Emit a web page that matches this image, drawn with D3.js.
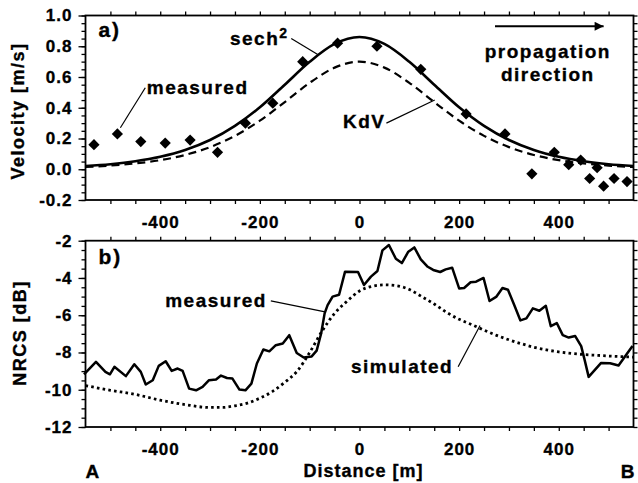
<!DOCTYPE html>
<html>
<head>
<meta charset="utf-8">
<script src="https://cdn.jsdelivr.net/npm/d3@7"></script>
<style>
    body { margin: 0; background: #fff; }
    svg { display: block; font-family: 'Liberation Sans', Arial, Helvetica, sans-serif; font-weight: bold; }
    svg text { stroke: #000; stroke-width: 0.35px; }
</style>
</head>
<body>
<svg id="chart" width="638" height="483"></svg>
<script>
// a) measured velocity (diamonds)
const velDist = [-533, -486, -439, -390, -340, -285, -229, -174, -114, -44, 35, 123, 214, 292, 346, 391, 420, 444, 462, 477, 490, 511, 537];
const velMeasured = [0.16, 0.23, 0.18, 0.17, 0.19, 0.11, 0.30, 0.43, 0.70, 0.82, 0.80, 0.65, 0.36, 0.23, -0.03, 0.11, 0.03, 0.06, -0.06, 0.01, -0.11, -0.06, -0.08];

// a) model curves, read every 50 m
const modelDist = [-550, -500, -450, -400, -350, -300, -250, -200, -150, -100, -50, 0, 50, 100, 150, 200, 250, 300, 350, 400, 450, 500, 550];
const velSech2 = [0.021, 0.033, 0.052, 0.081, 0.125, 0.190, 0.282, 0.403, 0.550, 0.699, 0.815, 0.860, 0.815, 0.699, 0.550, 0.403, 0.282, 0.190, 0.125, 0.081, 0.052, 0.033, 0.021];
const velKdV = [0.015, 0.024, 0.038, 0.059, 0.093, 0.144, 0.217, 0.316, 0.437, 0.562, 0.661, 0.700, 0.661, 0.562, 0.437, 0.316, 0.217, 0.144, 0.093, 0.059, 0.038, 0.024, 0.015];

// b) measured NRCS
const nrcsDist = [-553, -529, -510, -501, -492, -469, -452, -439, -429, -415, -403, -389, -377, -365, -355, -342, -328, -315, -302, -288, -278, -266, -255, -241, -229, -217, -206, -193, -181, -168, -154, -141, -126, -112, -96, -86, -77, -70, -64, -54, -41, -29, -3, 9, 23, 36, 46, 59, 73, 85, 98, 110, 123, 137, 148, 162, 173, 186, 200, 210, 223, 234, 249, 261, 275, 287, 298, 311, 323, 335, 348, 361, 374, 384, 396, 408, 420, 433, 445, 452, 460, 485, 503, 520, 548];
const nrcsMeasured = [-9.17, -8.50, -9.04, -9.17, -8.77, -9.27, -8.63, -9.04, -9.72, -9.49, -8.72, -8.47, -8.99, -8.86, -8.99, -9.94, -10.03, -9.85, -9.49, -9.45, -9.24, -9.37, -9.40, -9.99, -10.03, -9.67, -8.59, -7.84, -7.94, -7.61, -7.52, -7.07, -8.03, -8.27, -8.21, -7.90, -6.98, -5.90, -5.46, -5.00, -4.90, -3.66, -3.68, -4.38, -3.93, -3.63, -2.52, -2.23, -2.97, -3.20, -2.59, -2.36, -3.00, -3.40, -3.57, -3.68, -3.54, -3.45, -4.56, -4.54, -4.23, -4.20, -4.00, -5.24, -5.00, -4.54, -4.63, -5.48, -6.28, -6.17, -5.63, -5.76, -5.49, -6.59, -6.42, -7.07, -7.20, -7.12, -7.66, -8.41, -9.31, -8.56, -8.58, -8.70, -7.65];

// b) simulated NRCS
const simDist = [-550, -500, -450, -400, -350, -300, -275, -250, -225, -200, -175, -150, -125, -100, -75, -50, -25, 0, 25, 50, 75, 100, 125, 150, 175, 200, 225, 250, 275, 300, 325, 350, 375, 400, 425, 450, 475, 500, 525, 550];
const nrcsSimulated = [-9.78, -10.03, -10.25, -10.56, -10.80, -10.95, -10.95, -10.86, -10.72, -10.45, -10.10, -9.60, -9.00, -8.00, -6.85, -5.90, -5.25, -4.70, -4.45, -4.37, -4.42, -4.62, -5.00, -5.40, -5.85, -6.22, -6.50, -6.80, -7.08, -7.32, -7.53, -7.72, -7.86, -7.97, -8.05, -8.11, -8.15, -8.19, -8.22, -8.25];

// tick labels
const distTicks = [-400, -200, 0, 200, 400];
const velTicks = [-0.2, 0.0, 0.2, 0.4, 0.6, 0.8, 1.0];
const nrcsTicks = [-12, -10, -8, -6, -4, -2];

const plotLeft = 85.5, plotRight = 633.5;
const panelA = { top: 15.5, bottom: 200 };
const panelB = { top: 240.7, bottom: 427 };

const svg = d3.select('#chart');

const x = d3.scaleLinear().domain([-550, 550]).range([plotLeft, plotRight]);
const yVel = d3.scaleLinear().domain([-0.2, 1.0]).range([panelA.bottom, panelA.top]);
const yNrcs = d3.scaleLinear().domain([-12, -2]).range([panelB.bottom, panelB.top]);

function styleAxis(g) {
    g.attr('font-family', null).attr('font-size', null);
    g.select('.domain').remove();
    g.selectAll('.tick line').attr('stroke', '#000').attr('stroke-width', 1.3);
    g.selectAll('text')
        .attr('fill', '#000')
        .style('font-size', '17px')
        .style('letter-spacing', '1px');
}

function drawPanel(y, panel, majorTicks, minorStep, fmt) {
    const g = svg.append('g');
    const xMinor = d3.range(-500, 501, 50);
    const [lo, hi] = y.domain();
    const yMinor = d3.range(lo, hi + minorStep / 2, minorStep);

    g.append('g')
        .attr('transform', `translate(0,${panel.bottom})`)
        .call(d3.axisBottom(x).tickValues(xMinor).tickSize(4).tickFormat(''))
        .call(styleAxis);
    g.append('g')
        .attr('transform', `translate(0,${panel.bottom})`)
        .call(d3.axisBottom(x).tickValues(distTicks).tickSize(0).tickPadding(16).tickFormat(d => String(d)))
        .call(styleAxis);
    g.append('g')
        .attr('transform', `translate(0,${panel.top})`)
        .call(d3.axisTop(x).tickValues(xMinor).tickSize(4).tickFormat(''))
        .call(styleAxis);

    g.append('g')
        .attr('transform', `translate(${plotLeft},0)`)
        .call(d3.axisLeft(y).tickValues(yMinor).tickSize(4).tickFormat(''))
        .call(styleAxis);
    g.append('g')
        .attr('transform', `translate(${plotLeft},0)`)
        .call(d3.axisLeft(y).tickValues(majorTicks).tickSize(7).tickPadding(6).tickFormat(fmt))
        .call(styleAxis);
    g.append('g')
        .attr('transform', `translate(${plotRight},0)`)
        .call(d3.axisRight(y).tickValues(yMinor).tickSize(4).tickFormat(''))
        .call(styleAxis);

    g.append('rect')
        .attr('x', plotLeft)
        .attr('y', panel.top)
        .attr('width', plotRight - plotLeft)
        .attr('height', panel.bottom - panel.top)
        .attr('fill', 'none')
        .attr('stroke', '#000')
        .attr('stroke-width', 1.8);
    return g;
}

function label(text, px, py, size, spacing) {
    return svg.append('text')
        .attr('x', px)
        .attr('y', py)
        .attr('fill', '#000')
        .style('font-size', size + 'px')
        .style('letter-spacing', spacing + 'px')
        .text(text);
}

function leader(x1, y1, x2, y2) {
    svg.append('line')
        .attr('x1', x1).attr('y1', y1)
        .attr('x2', x2).attr('y2', y2)
        .attr('stroke', '#000')
        .attr('stroke-width', 1.2);
}

// ---------- panel a)
drawPanel(yVel, panelA, velTicks, 0.05, d => d.toFixed(1));

const velLine = values => d3.line()
    .x((d, i) => x(modelDist[i]))
    .y(d => yVel(d))
    .curve(d3.curveMonotoneX)(values);

svg.append('path')
    .attr('d', velLine(velKdV))
    .attr('fill', 'none')
    .attr('stroke', '#000')
    .attr('stroke-width', 2.2)
    .attr('stroke-dasharray', '8,5');

svg.append('path')
    .attr('d', velLine(velSech2))
    .attr('fill', 'none')
    .attr('stroke', '#000')
    .attr('stroke-width', 2.6);

const diamond = r => `M0,${-r}L${r},0L0,${r}L${-r},0Z`;
svg.append('g')
    .selectAll('path')
    .data(velMeasured)
    .join('path')
    .attr('transform', (d, i) => `translate(${x(velDist[i])},${yVel(d)})`)
    .attr('d', diamond(5.6))
    .attr('fill', '#000');

label('a)', x(-524), yVel(0.86), 21, 2);

const sech = label('sech', x(-260), yVel(0.81), 19, 1.5);
sech.append('tspan')
    .attr('dy', -7)
    .style('font-size', '14px')
    .text('2');
leader(x(-137), yVel(0.85), x(-83), yVel(0.745));

label('measured', x(-427), yVel(0.49), 19, 1.5);
leader(x(-430), yVel(0.53), x(-480), yVel(0.27));

label('KdV', x(-33), yVel(0.27), 19, 1.5);
leader(x(54), yVel(0.30), x(151), yVel(0.45));

label('propagation', x(378), yVel(0.725), 19, 1.5).attr('text-anchor', 'middle');
label('direction', x(378), yVel(0.575), 19, 1.5).attr('text-anchor', 'middle');

svg.append('defs').append('marker')
    .attr('id', 'arrow')
    .attr('viewBox', '0 0 10 10')
    .attr('refX', 10)
    .attr('refY', 5)
    .attr('markerWidth', 5.5)
    .attr('markerHeight', 4.5)
    .attr('markerUnits', 'strokeWidth')
    .attr('orient', 'auto')
    .append('path')
    .attr('d', 'M0,0L10,5L0,10Z')
    .attr('fill', '#000');

svg.append('line')
    .attr('x1', x(272)).attr('y1', yVel(0.93))
    .attr('x2', x(490)).attr('y2', yVel(0.93))
    .attr('stroke', '#000')
    .attr('stroke-width', 2)
    .attr('marker-end', 'url(#arrow)');

// ---------- panel b)
drawPanel(yNrcs, panelB, nrcsTicks, 0.5, d => String(d));

svg.append('path')
    .datum(nrcsSimulated)
    .attr('d', d3.line()
        .x((d, i) => x(simDist[i]))
        .y(d => yNrcs(d))
        .curve(d3.curveMonotoneX))
    .attr('fill', 'none')
    .attr('stroke', '#000')
    .attr('stroke-width', 2.8)
    .attr('stroke-dasharray', '2.6,3.2');

svg.append('path')
    .datum(nrcsMeasured)
    .attr('d', d3.line()
        .x((d, i) => x(nrcsDist[i]))
        .y(d => yNrcs(d)))
    .attr('fill', 'none')
    .attr('stroke', '#000')
    .attr('stroke-width', 2.5)
    .attr('stroke-linejoin', 'round');

label('b)', x(-524), yNrcs(-3.25), 21, 2);

label('measured', x(-390), yNrcs(-5.56), 19, 1.5);
leader(x(-178), yNrcs(-5.23), x(-69), yNrcs(-5.82));

label('simulated', x(-17), yNrcs(-9.09), 19, 1.5);
leader(x(198), yNrcs(-8.77), x(242), yNrcs(-6.55));

// ---------- axis titles
svg.append('text')
    .attr('transform', 'translate(24,111) rotate(-90)')
    .attr('text-anchor', 'middle')
    .style('font-size', '18px')
    .style('letter-spacing', '1.5px')
    .text('Velocity [m/s]');

svg.append('text')
    .attr('transform', 'translate(26,333) rotate(-90)')
    .attr('text-anchor', 'middle')
    .style('font-size', '18px')
    .style('letter-spacing', '1.5px')
    .text('NRCS [dB]');

label('Distance [m]', x(0) + 4, 477, 18, 1).attr('text-anchor', 'middle');
label('A', plotLeft, 478, 19, 0);
label('B', plotRight + 1, 478, 19, 0).attr('text-anchor', 'end');
</script>
</body>
</html>
